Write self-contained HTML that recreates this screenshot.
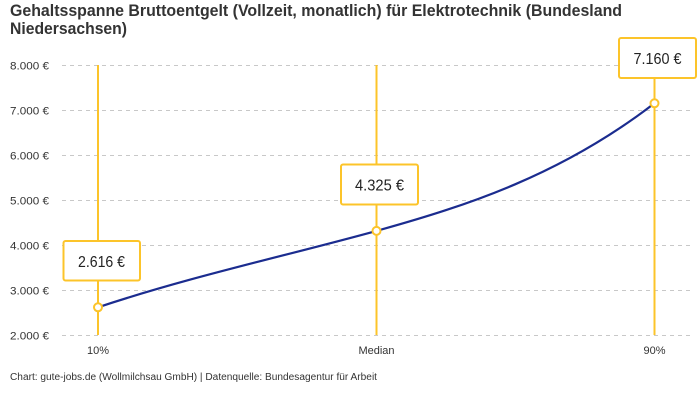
<!DOCTYPE html>
<html>
<head>
<meta charset="utf-8">
<style>
html,body{margin:0;padding:0;background:#fff;}
svg{display:block;}
text{font-family:"Liberation Sans",sans-serif;}
</style>
</head>
<body>
<svg width="700" height="400" viewBox="0 0 700 400" xmlns="http://www.w3.org/2000/svg">
  <rect width="700" height="400" fill="#fff"/>
  <!-- Title -->
  <text x="10" y="16" font-size="16.5" font-weight="bold" fill="#333" textLength="612" lengthAdjust="spacingAndGlyphs">Gehaltsspanne Bruttoentgelt (Vollzeit, monatlich) für Elektrotechnik (Bundesland</text>
  <text x="10" y="34" font-size="16.5" font-weight="bold" fill="#333" textLength="117" lengthAdjust="spacingAndGlyphs">Niedersachsen)</text>

  <!-- Grid lines -->
  <g stroke="#c8c8c8" stroke-width="1" stroke-dasharray="4,4">
    <line x1="62" y1="65.5" x2="690" y2="65.5"/>
    <line x1="62" y1="110.5" x2="690" y2="110.5"/>
    <line x1="62" y1="155.5" x2="690" y2="155.5"/>
    <line x1="62" y1="200.5" x2="690" y2="200.5"/>
    <line x1="62" y1="245.5" x2="690" y2="245.5"/>
    <line x1="62" y1="290.5" x2="690" y2="290.5"/>
    <line x1="62" y1="335.5" x2="690" y2="335.5"/>
  </g>

  <!-- Y axis labels -->
  <g font-size="11" fill="#333">
    <text x="10" y="69.5" textLength="39" lengthAdjust="spacingAndGlyphs">8.000 €</text>
    <text x="10" y="114.5" textLength="39" lengthAdjust="spacingAndGlyphs">7.000 €</text>
    <text x="10" y="159.5" textLength="39" lengthAdjust="spacingAndGlyphs">6.000 €</text>
    <text x="10" y="204.5" textLength="39" lengthAdjust="spacingAndGlyphs">5.000 €</text>
    <text x="10" y="249.5" textLength="39" lengthAdjust="spacingAndGlyphs">4.000 €</text>
    <text x="10" y="294.5" textLength="39" lengthAdjust="spacingAndGlyphs">3.000 €</text>
    <text x="10" y="339.5" textLength="39" lengthAdjust="spacingAndGlyphs">2.000 €</text>
  </g>

  <!-- X axis labels -->
  <g font-size="11" fill="#333" text-anchor="middle">
    <text x="98" y="354">10%</text>
    <text x="376.5" y="354">Median</text>
    <text x="654.5" y="354">90%</text>
  </g>

  <!-- Vertical marker lines -->
  <g stroke="#fcc42a" stroke-width="2">
    <line x1="98" y1="65" x2="98" y2="335"/>
    <line x1="376.5" y1="65" x2="376.5" y2="335"/>
    <line x1="654.5" y1="65" x2="654.5" y2="335"/>
  </g>

  <!-- Curve -->
  <path d="M98,307.3 C190.67,276.5 283.33,256.5 376.5,230.9 C468.67,205.3 561.33,174.8 654.5,103.3" fill="none" stroke="#1b2c8f" stroke-width="2.2"/>

  <!-- Markers -->
  <g fill="#fff" stroke="#fcc42a" stroke-width="2">
    <circle cx="98" cy="307.3" r="4"/>
    <circle cx="376.5" cy="230.9" r="4"/>
    <circle cx="654.5" cy="103.3" r="4"/>
  </g>

  <!-- Label boxes -->
  <g fill="#fff" stroke="#fcc42a" stroke-width="2">
    <rect x="63.5" y="241" width="76.5" height="39.5" rx="2"/>
    <rect x="341" y="164.5" width="77" height="40" rx="2"/>
    <rect x="619" y="38" width="77" height="40" rx="2"/>
  </g>
  <g font-size="16" fill="#222" text-anchor="middle">
    <text x="101.5" y="267" textLength="47" lengthAdjust="spacingAndGlyphs">2.616 €</text>
    <text x="379.5" y="190.5" textLength="49" lengthAdjust="spacingAndGlyphs">4.325 €</text>
    <text x="657.5" y="64" textLength="48" lengthAdjust="spacingAndGlyphs">7.160 €</text>
  </g>

  <!-- Footer -->
  <text x="10" y="380" font-size="10" fill="#333" textLength="367" lengthAdjust="spacingAndGlyphs">Chart: gute-jobs.de (Wollmilchsau GmbH) | Datenquelle: Bundesagentur für Arbeit</text>
</svg>
</body>
</html>
